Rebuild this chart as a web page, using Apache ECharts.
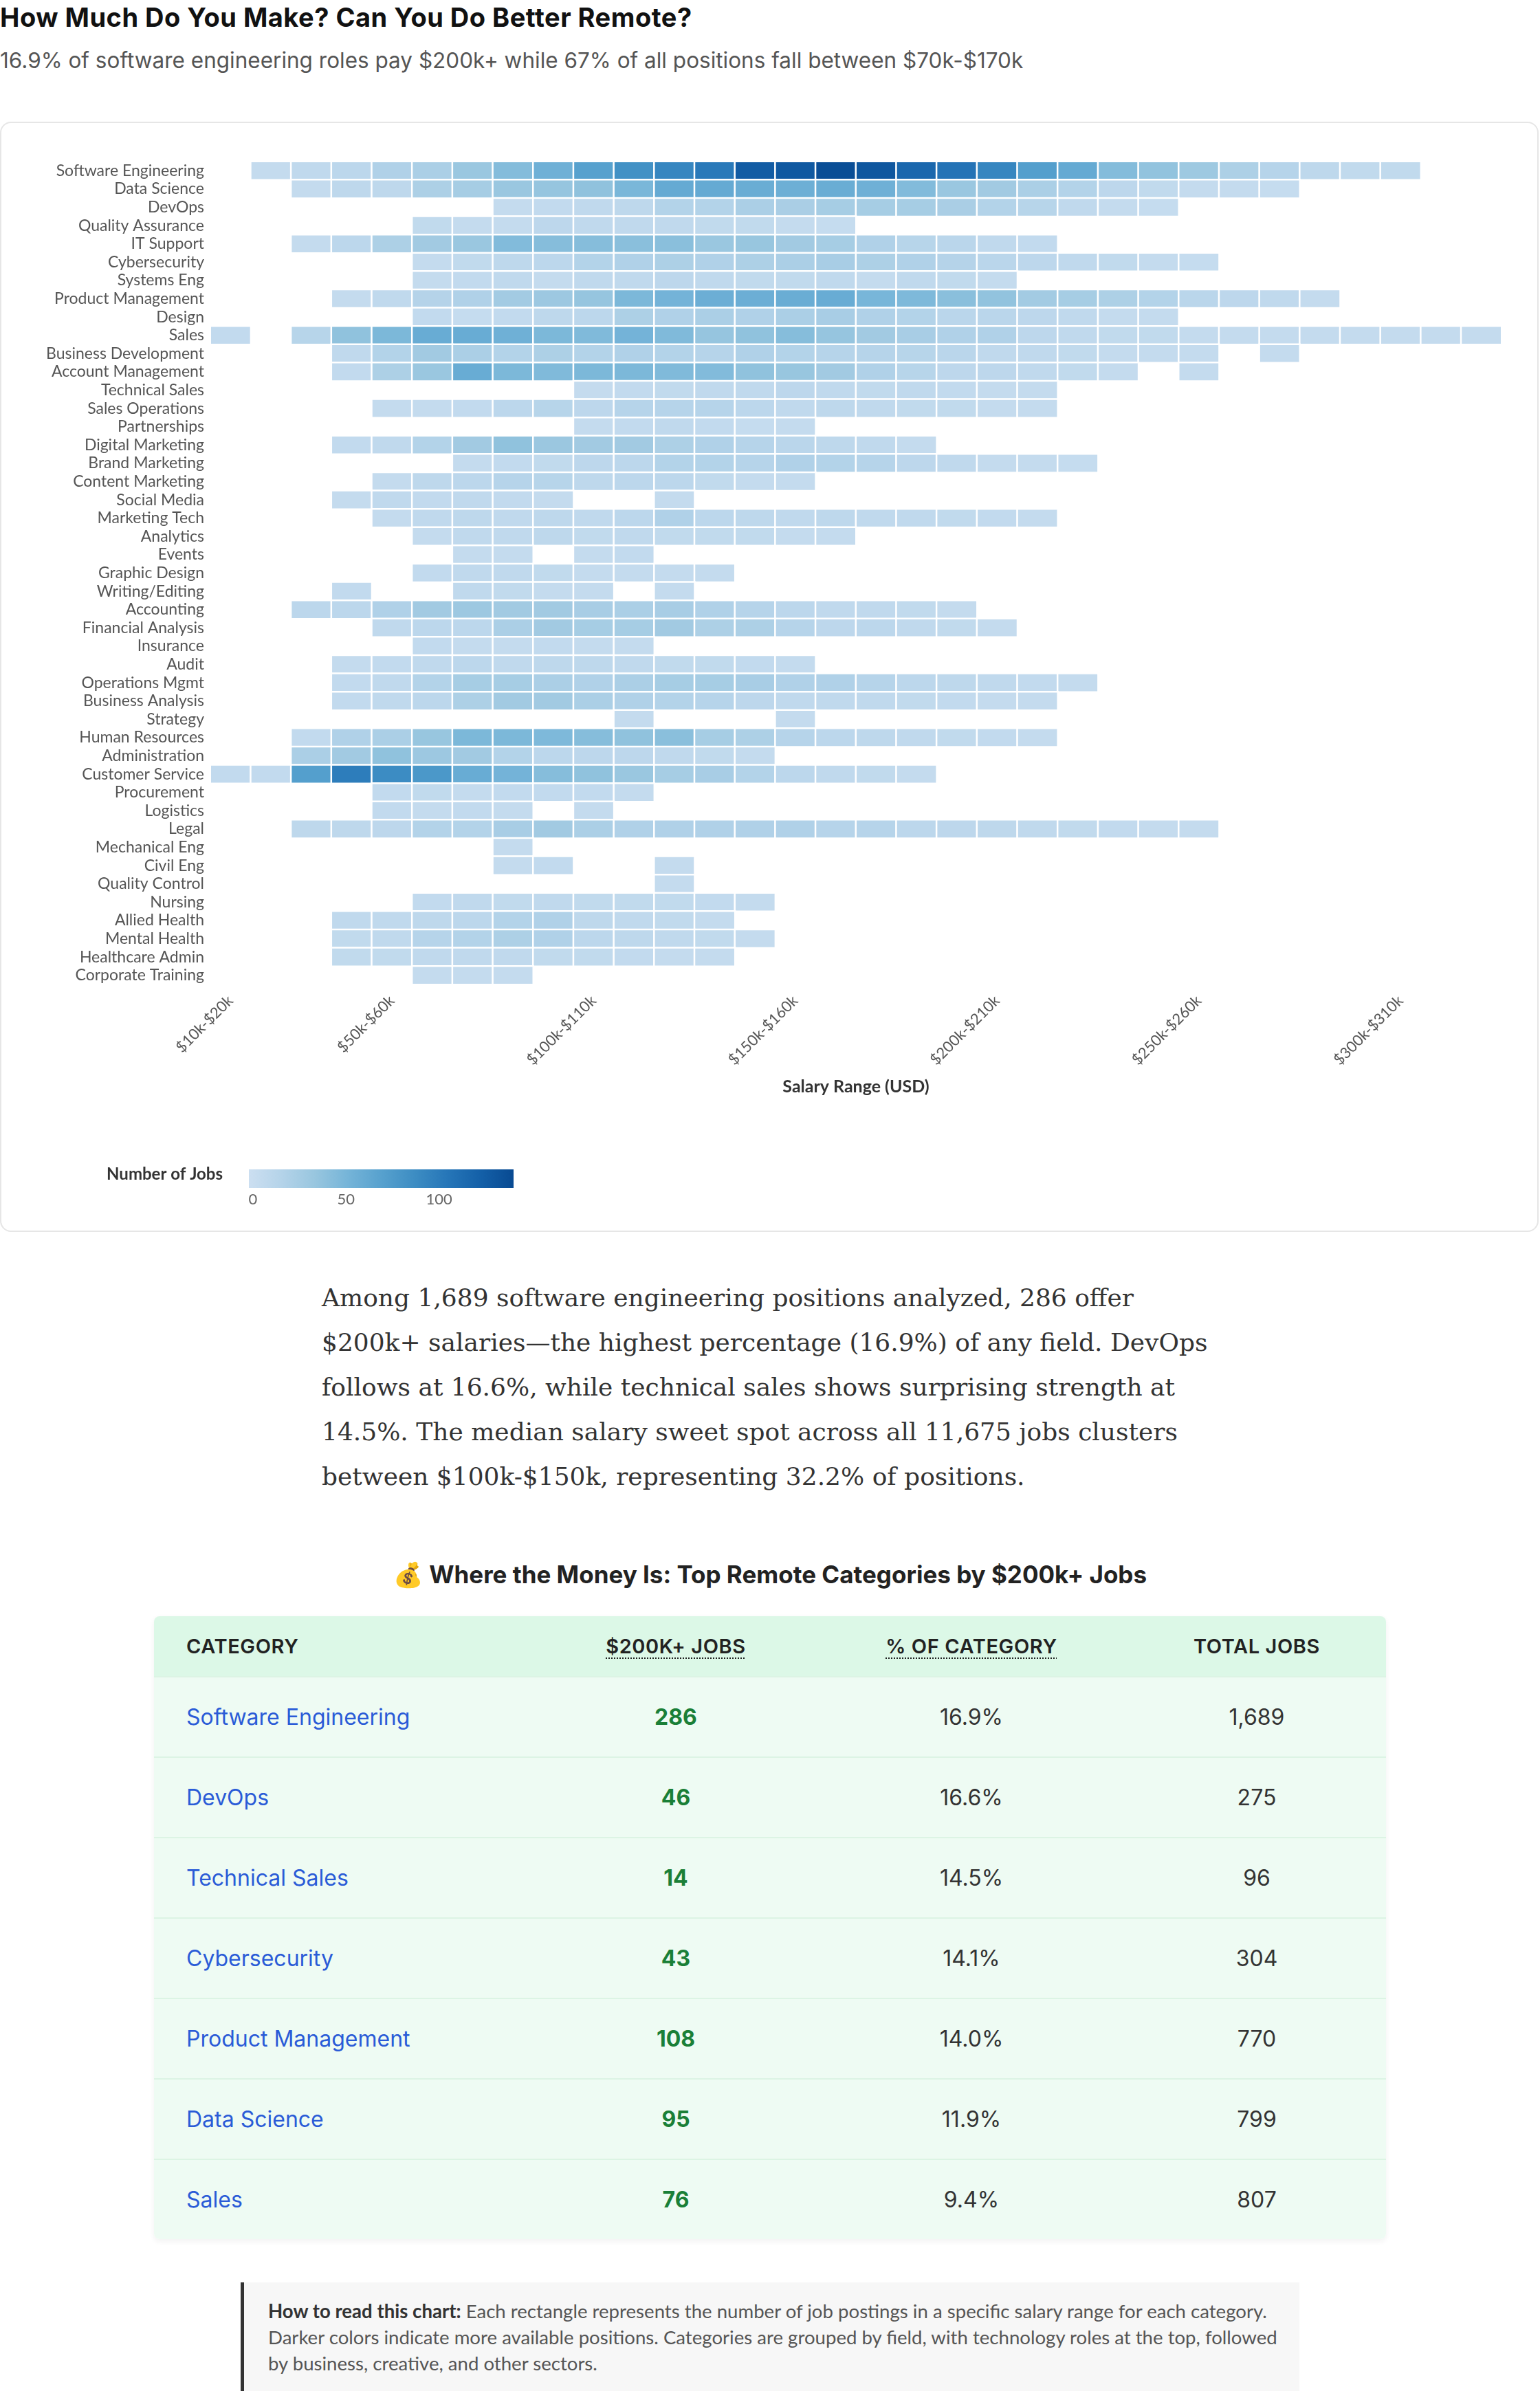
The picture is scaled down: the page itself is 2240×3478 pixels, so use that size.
<!DOCTYPE html>
<html>
<head>
<meta charset="utf-8">
<script src="https://cdn.jsdelivr.net/npm/echarts@6/dist/echarts.min.js"></script>
<style>
html,body{margin:0;padding:0;background:#fff;}
body{width:2240px;height:3478px;position:relative;overflow:hidden;font-family:Inter,sans-serif;}
#title{position:absolute;left:0;top:0;font:700 38px/50px Inter;color:#111;white-space:nowrap;letter-spacing:0.5px;}
#subtitle{position:absolute;left:0;top:68px;font:400 31.5px/40px Inter;color:#555;white-space:nowrap;}
#card{position:absolute;left:0;top:177px;width:2238px;height:1615px;box-sizing:border-box;border:2px solid #e6e6e6;border-radius:16px;background:#fff;}
#chart{position:absolute;left:0;top:177px;width:2238px;height:1615px;}
#para{position:absolute;left:468px;top:1855px;font:400 36px/65px 'DejaVu Serif';color:#333;white-space:nowrap;}
#tableTitle{position:absolute;left:0;width:2240px;top:2265px;text-align:center;font:700 35px/50px Inter;color:#222;white-space:nowrap;}
#tbl{position:absolute;left:224px;top:2351px;width:1792px;border-radius:8px;overflow:hidden;box-shadow:0 3px 8px rgba(0,0,0,0.06);}
.row{display:grid;grid-template-columns:556px 406px 454px 376px;align-items:center;}
.hrow{height:87px;background:#dcf8e7;font:600 29px Inter;color:#222;letter-spacing:0.6px;}
.brow{height:117px;background:#eefbf3;box-sizing:border-box;border-top:2px solid #dcf4e4;font:400 32px Inter;color:#333;}
.brow:first-child{border-top:none;}
.c1{padding-left:47px;}
.cc{text-align:center;}
.abbr{text-decoration:underline dotted;text-underline-offset:6px;text-decoration-thickness:2px;}
.cat{color:#2a5bd7;}
.hi{color:#1a7f37;font-weight:700;}
#note{position:absolute;left:350px;top:3320px;width:1540px;height:200px;background:#f7f7f7;border-left:5px solid #333;box-sizing:border-box;padding:23px 0 0 35px;font:400 27.6px/38px Lato;color:#555;white-space:nowrap;}
#note b{color:#333;}
</style>
</head>
<body>
<div id="title">How Much Do You Make? Can You Do Better Remote?</div>
<div id="subtitle">16.9% of software engineering roles pay $200k+ while 67% of all positions fall between $70k-$170k</div>
<div id="card"></div>
<div id="chart"></div>
<div id="para">Among 1,689 software engineering positions analyzed, 286 offer<br>$200k+ salaries—the highest percentage (16.9%) of any field. DevOps<br>follows at 16.6%, while technical sales shows surprising strength at<br>14.5%. The median salary sweet spot across all 11,675 jobs clusters<br>between $100k-$150k, representing 32.2% of positions.</div>
<div id="tableTitle">💰 Where the Money Is: Top Remote Categories by $200k+ Jobs</div>
<div id="tbl"></div>
<div id="note"><b>How to read this chart:</b> Each rectangle represents the number of job postings in a specific salary range for each category.<br>Darker colors indicate more available positions. Categories are grouped by field, with technology roles at the top, followed<br>by business, creative, and other sectors.</div>
<script>
// ---------- DATA ----------
const salaryBins = ["$10k-$20k","$20k-$30k","$30k-$40k","$40k-$50k","$50k-$60k","$60k-$70k","$70k-$80k","$80k-$90k","$90k-$100k","$100k-$110k","$110k-$120k","$120k-$130k","$130k-$140k","$140k-$150k","$150k-$160k","$160k-$170k","$170k-$180k","$180k-$190k","$190k-$200k","$200k-$210k","$210k-$220k","$220k-$230k","$230k-$240k","$240k-$250k","$250k-$260k","$260k-$270k","$270k-$280k","$280k-$290k","$290k-$300k","$300k-$310k","$310k-$320k","$320k-$330k"];
const xTickLabels = ["$10k-$20k","$50k-$60k","$100k-$110k","$150k-$160k","$200k-$210k","$250k-$260k","$300k-$310k"];
const jobCategories = ["Software Engineering","Data Science","DevOps","Quality Assurance","IT Support","Cybersecurity","Systems Eng","Product Management","Design","Sales","Business Development","Account Management","Technical Sales","Sales Operations","Partnerships","Digital Marketing","Brand Marketing","Content Marketing","Social Media","Marketing Tech","Analytics","Events","Graphic Design","Writing/Editing","Accounting","Financial Analysis","Insurance","Audit","Operations Mgmt","Business Analysis","Strategy","Human Resources","Administration","Customer Service","Procurement","Logistics","Legal","Mechanical Eng","Civil Eng","Quality Control","Nursing","Allied Health","Mental Health","Healthcare Admin","Corporate Training"];
const _ = null;
// one row per category, one entry per salary bin (null = no postings)
const jobCounts = [
  [_,6,9,12,20,23,34,45,56,70,84,93,103,126,128,137,130,117,107,93,72,62,45,38,31,22,16,10,8,8],
  [_,_,6,10,10,22,26,34,36,39,50,62,62,59,57,59,56,46,34,29,23,18,11,8,6,6,5],
  [_,_,_,_,_,_,_,6,7,9,10,18,18,23,24,26,26,26,24,18,15,9,6,5],
  [_,_,_,_,_,8,6,6,11,9,9,9,8,8,6,5],
  [_,_,6,12,22,29,34,46,44,44,42,42,34,35,29,26,20,15,13,9,7],
  [_,_,_,_,_,6,8,10,12,18,20,22,20,22,23,25,22,20,17,13,11,9,8,6,5],
  [_,_,_,_,_,6,7,9,6,9,9,11,9,8,8,9,6,9,8,6],
  [_,_,_,6,9,17,20,28,32,36,49,53,58,58,59,60,51,48,42,38,28,26,22,18,13,11,9,6],
  [_,_,_,_,_,7,5,7,10,12,22,20,23,20,23,25,20,18,13,13,11,9,6,6],
  [7,_,15,39,49,60,60,56,49,47,53,47,36,39,44,36,29,25,20,20,11,9,8,8,6,6,6,6,6,6,6,6],
  [_,_,_,9,18,29,23,18,22,18,20,18,16,20,18,16,16,15,13,9,9,8,6,6,6,_,6],
  [_,_,_,7,22,34,60,49,47,49,49,47,46,39,35,29,20,15,11,11,9,8,6,_,6],
  [_,_,_,_,_,_,_,_,_,6,7,8,9,9,11,9,8,9,7,6,6],
  [_,_,_,_,6,6,7,12,15,11,16,16,16,12,9,10,9,8,8,6,6],
  [_,_,_,_,_,_,_,_,_,6,7,9,7,5,6],
  [_,_,_,7,9,18,29,39,33,29,29,22,20,16,13,10,9,6],
  [_,_,_,_,_,_,6,7,8,11,12,18,18,16,20,18,16,11,9,6,6,5],
  [_,_,_,_,6,10,12,16,15,10,12,12,8,6,6],
  [_,_,_,6,9,7,9,7,6,_,_,6],
  [_,_,_,_,6,9,10,9,10,9,12,20,12,10,9,10,9,9,8,7,6],
  [_,_,_,_,_,6,9,9,10,8,9,8,8,8,6,6],
  [_,_,_,_,_,_,6,6,_,6,7],
  [_,_,_,_,_,7,9,9,8,6,6,6,6],
  [_,_,_,7,_,_,9,8,6,6,_,6],
  [_,_,12,12,20,29,32,29,29,25,23,25,20,16,12,9,9,8,6],
  [_,_,_,_,9,12,12,23,29,26,26,29,22,22,16,11,12,9,8,6],
  [_,_,_,_,_,7,6,6,7,6,6],
  [_,_,_,6,7,9,12,9,10,10,9,8,8,7,6],
  [_,_,_,7,9,18,26,26,23,20,23,26,26,25,20,20,16,12,10,9,7,6],
  [_,_,_,7,9,12,22,29,29,23,20,18,16,11,9,9,9,8,7,6,6],
  [_,_,_,_,_,_,_,_,_,_,6,_,_,_,6],
  [_,_,7,20,23,35,49,49,48,44,39,42,26,22,16,12,10,9,8,7,6],
  [_,_,23,29,39,32,29,18,12,11,11,9,8,6],
  [7,7,72,100,88,78,60,53,44,39,34,26,25,18,12,9,8,6],
  [_,_,_,_,7,8,6,7,7,7,6],
  [_,_,_,_,7,6,7,6,_,6],
  [_,_,10,10,11,18,18,25,29,23,20,20,20,20,20,16,16,12,11,10,9,8,7,6,6],
  [_,_,_,_,_,_,_,6],
  [_,_,_,_,_,_,_,6,7,_,_,6],
  [_,_,_,_,_,_,_,_,_,_,_,6],
  [_,_,_,_,_,7,9,8,9,8,8,8,7,6],
  [_,_,_,9,9,10,12,18,20,10,9,8,6],
  [_,_,_,8,9,16,18,22,20,12,10,9,8,6],
  [_,_,_,8,8,9,9,9,8,8,7,6,6],
  [_,_,_,_,_,6,6,6]
];
const legendMax = 140;
const legendTicks = [0, 50, 100];
const blues = ['#ccdff1','#b4d3e9','#98c6df','#75b4d8','#57a1ce','#3d8dc3','#2676b8','#1460a8','#084a92'];

// table data
const tableCategories = ["Software Engineering","DevOps","Technical Sales","Cybersecurity","Product Management","Data Science","Sales"];
const tableHighJobs = [286, 46, 14, 43, 108, 95, 76];
const tablePct = ["16.9%","16.6%","14.5%","14.1%","14.0%","11.9%","9.4%"];
const tableTotals = ["1,689","275","96","304","770","799","807"];

// ---------- TABLE ----------
(function(){
  const t = document.getElementById('tbl');
  let h = '<div class="row hrow"><div class="c1">CATEGORY</div><div class="cc"><span class="abbr">$200K+ JOBS</span></div><div class="cc"><span class="abbr">% OF CATEGORY</span></div><div class="cc">TOTAL JOBS</div></div>';
  tableCategories.forEach((c,i)=>{
    h += '<div class="row brow"><div class="c1 cat">'+c+'</div><div class="cc hi">'+tableHighJobs[i]+'</div><div class="cc">'+tablePct[i]+'</div><div class="cc">'+tableTotals[i]+'</div></div>';
  });
  t.innerHTML = h;
})();

// ---------- CHART ----------
const data = [];
jobCounts.forEach((row, y) => row.forEach((v, x) => { if (v !== null && v !== undefined) data.push([x, y, v]); }));

const chart = echarts.init(document.getElementById('chart'));
const barX = 362, barY = 1524, barW = 385, barH = 27;
const graphics = [
  {type:'text', x:324, y:1531, style:{text:'Number of Jobs', fill:'#333', font:'bold 24px Lato', align:'right', verticalAlign:'middle', textAlign:'right', textVerticalAlign:'middle'}},
  {type:'rect', shape:{x:barX, y:barY, width:barW, height:barH}, style:{fill:{type:'linear', x:0, y:0, x2:1, y2:0, colorStops: blues.map((c,i)=>({offset:i/(blues.length-1), color:c}))}}}
];
legendTicks.forEach(v => graphics.push({type:'text', x: barX + 6 + v/legendMax*(barW-6), y:1568, style:{text:String(v), fill:'#666', font:'22px Lato', align:'center', verticalAlign:'middle', textAlign:'center', textVerticalAlign:'middle'}}));

chart.setOption({
  animation:false,
  grid:{left:306, right:54, top:58, height:1197},
  xAxis:{
    type:'category', data:salaryBins,
    axisLine:{show:false}, axisTick:{show:false}, splitLine:{show:false},
    axisLabel:{interval:(i, val) => xTickLabels.includes(val), rotate:45, margin:20, color:'#555', fontSize:22, fontFamily:'Lato'},
    name:'Salary Range (USD)', nameLocation:'middle', nameGap:136,
    nameTextStyle:{fontSize:25, fontWeight:'bold', color:'#333', fontFamily:'Lato'}
  },
  yAxis:{
    type:'category', data:jobCategories, inverse:true,
    axisLine:{show:false}, axisTick:{show:false}, splitLine:{show:false},
    axisLabel:{interval:0, margin:9, color:'#555', fontSize:23, fontFamily:'Lato'}
  },
  visualMap:{show:false, type:'continuous', min:0, max:legendMax, dimension:2, inRange:{color:blues}},
  series:[{type:'heatmap', data:data, itemStyle:{borderColor:'#fff', borderWidth:2.5}, emphasis:{disabled:true}}],
  graphic:graphics
});
</script>
</body>
</html>
